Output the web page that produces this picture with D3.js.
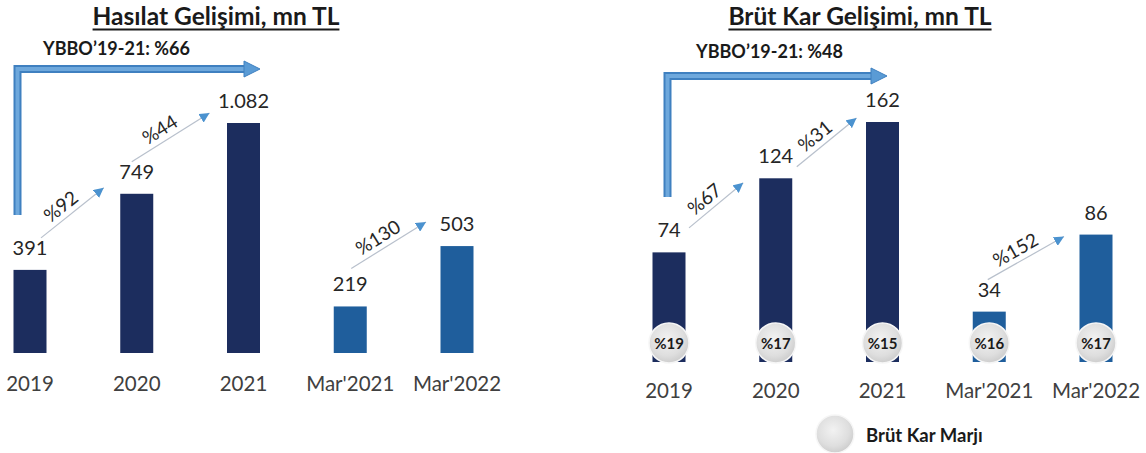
<!DOCTYPE html>
<html>
<head>
<meta charset="utf-8">
<script src="https://cdn.jsdelivr.net/npm/d3@7"></script>
<style>
  html, body { margin: 0; padding: 0; background: #fff; }
  svg { display: block; font-family: Lato, "Open Sans", sans-serif; }
</style>
</head>
<body>
<svg id="chart" width="1146" height="453"></svg>
<script>
// ---- data ----
const categories = ["2019", "2020", "2021", "Mar'2021", "Mar'2022"];
const revenue = [391, 749, 1082, 219, 503];
const grossProfit = [74, 124, 162, 34, 86];
const grossMargin = ["%19", "%17", "%15", "%16", "%17"];
const revenueGrowth = [
  { from: 0, to: 1, label: "%92" },
  { from: 1, to: 2, label: "%44" },
  { from: 3, to: 4, label: "%130" }
];
const profitGrowth = [
  { from: 0, to: 1, label: "%67" },
  { from: 1, to: 2, label: "%31" },
  { from: 3, to: 4, label: "%152" }
];
const titles = ["Hasılat Gelişimi, mn TL", "Brüt Kar Gelişimi, mn TL"];
const cagrLabels = ["YBBO’19-21: %66", "YBBO’19-21: %48"];
const legendLabel = "Brüt Kar Marjı";

// Turkish number format (1.082)
const trLocale = d3.formatLocale({ decimal: ",", thousands: ".", grouping: [3], currency: ["", "₺"] });
const fmt = trLocale.format(",");

const COLOR_YEAR = "#1c2d5e";
const COLOR_QUARTER = "#1f5e9c";
const barColor = (c) => c.startsWith("Mar") ? COLOR_QUARTER : COLOR_YEAR;

const svg = d3.select("#chart");

// shared defs: margin bubble gradient, arrowhead
const defs = svg.append("defs");
const grad = defs.append("radialGradient").attr("id", "bubble").attr("cx", "45%").attr("cy", "40%").attr("r", "60%");
grad.append("stop").attr("offset", "0%").attr("stop-color", "#f2f2f2");
grad.append("stop").attr("offset", "70%").attr("stop-color", "#dedede");
grad.append("stop").attr("offset", "100%").attr("stop-color", "#cdcdcd");

defs.append("marker")
  .attr("id", "tri").attr("viewBox", "0 0 10 10")
  .attr("refX", 10).attr("refY", 5)
  .attr("markerUnits", "userSpaceOnUse")
  .attr("markerWidth", 10).attr("markerHeight", 10)
  .attr("orient", "auto")
  .append("path").attr("d", "M0,0 L10,5 L0,10 Z").attr("fill", "#4b92cf");

// panel layouts
const panels = [
  {
    values: revenue, growth: revenueGrowth, title: titles[0], cagr: cagrLabels[0],
    xRange: [30, 457], yRange: [353, 123], yMax: 1082, barW: 33,
    titleX: 216, cagrX: 43, cagrY: 55,
    bigArrow: { x: 17.5, yBottom: 215, y: 69, tip: 260 },
    catY: 391,
    growthLayout: [
      { s: [11, -32], e: [-33, -6] },
      { s: [-5, -32], e: [-34, -10] },
      { s: [1, -38], e: [-31, -24] }
    ],
    margins: null
  },
  {
    values: grossProfit, growth: profitGrowth, title: titles[1], cagr: cagrLabels[1],
    xRange: [669, 1096], yRange: [362, 122], yMax: 162, barW: 33,
    titleX: 860, cagrX: 696, cagrY: 58,
    bigArrow: { x: 667.5, yBottom: 197, y: 76, tip: 887 },
    catY: 398,
    growthLayout: [
      { s: [20, -24.5], e: [-32.5, 4.5] },
      { s: [21, -11.5], e: [-26, -4] },
      { s: [-1.5, -32], e: [-32, 2] }
    ],
    margins: grossMargin
  }
];

panels.forEach((p) => {
  const g = svg.append("g");
  const x = d3.scalePoint().domain(categories).range(p.xRange);
  const y = d3.scaleLinear().domain([0, p.yMax]).range(p.yRange);
  const rows = categories.map((c, i) => ({ c, v: p.values[i], i }));

  // title with underline
  const t = g.append("text")
    .attr("x", p.titleX).attr("y", 25)
    .attr("text-anchor", "middle")
    .attr("font-size", 24.5).attr("font-weight", 700).attr("fill", "#1a1a1a")
    .text(p.title);
  const tw = t.node().getComputedTextLength();
  g.append("rect")
    .attr("x", p.titleX - tw / 2).attr("y", 28.5)
    .attr("width", tw).attr("height", 2).attr("fill", "#1a1a1a");

  // CAGR label and elbow arrow
  g.append("text")
    .attr("x", p.cagrX).attr("y", p.cagrY)
    .attr("font-size", 18).attr("font-weight", 700).attr("fill", "#1a1a1a")
    .text(p.cagr);

  const a = p.bigArrow;
  const elbow = d3.path();
  elbow.moveTo(a.x, a.yBottom);
  elbow.lineTo(a.x, a.y);
  elbow.lineTo(a.tip - 15, a.y);
  g.append("path").attr("d", elbow.toString())
    .attr("fill", "none").attr("stroke", "#3f80c0").attr("stroke-width", 8)
    .attr("stroke-linejoin", "miter");
  g.append("path").attr("d", elbow.toString())
    .attr("fill", "none").attr("stroke", "#6ea8dc").attr("stroke-width", 4)
    .attr("stroke-linejoin", "miter");
  g.append("path")
    .attr("d", `M${a.tip - 16},${a.y - 8} L${a.tip},${a.y} L${a.tip - 16},${a.y + 8} Z`)
    .attr("fill", "#5a9bd5").attr("stroke", "#3f80c0").attr("stroke-width", 1);

  // bars
  g.selectAll("rect.bar").data(rows).join("rect")
    .attr("class", "bar")
    .attr("x", (d) => x(d.c) - p.barW / 2)
    .attr("y", (d) => y(d.v))
    .attr("width", p.barW)
    .attr("height", (d) => y(0) - y(d.v))
    .attr("fill", (d) => barColor(d.c));

  // value labels
  g.selectAll("text.val").data(rows).join("text")
    .attr("class", "val")
    .attr("x", (d) => x(d.c))
    .attr("y", (d) => y(d.v) - 15)
    .attr("text-anchor", "middle")
    .attr("font-size", 20).attr("fill", "#262626")
    .text((d) => fmt(d.v));

  // category labels
  g.selectAll("text.cat").data(rows).join("text")
    .attr("class", "cat")
    .attr("x", (d) => x(d.c))
    .attr("y", p.catY)
    .attr("text-anchor", "middle")
    .attr("font-size", 20.5).attr("fill", "#404040")
    .text((d) => d.c);

  // growth arrows between bars
  p.growth.forEach((gr, k) => {
    const L = p.growthLayout[k];
    const x0 = x(categories[gr.from]) + L.s[0], y0 = y(p.values[gr.from]) + L.s[1];
    const x1 = x(categories[gr.to]) + L.e[0], y1 = y(p.values[gr.to]) + L.e[1];
    g.append("line")
      .attr("x1", x0).attr("y1", y0).attr("x2", x1).attr("y2", y1)
      .attr("stroke", "#b8c0cc").attr("stroke-width", 1.2)
      .attr("marker-end", "url(#tri)");
    const dx = x1 - x0, dy = y1 - y0, len = Math.hypot(dx, dy);
    const ux = dx / len, uy = dy / len;
    const nx = uy, ny = -ux;
    const mx = (x0 + x1) / 2 - ux * 5 + nx * 13;
    const my = (y0 + y1) / 2 - uy * 5 + ny * 13;
    const ang = Math.atan2(dy, dx) * 180 / Math.PI;
    g.append("text")
      .attr("transform", `translate(${mx},${my}) rotate(${ang})`)
      .attr("text-anchor", "middle").attr("dominant-baseline", "central")
      .attr("font-size", 19).attr("fill", "#262626")
      .text(gr.label);
  });

  // gross margin bubbles
  if (p.margins) {
    const cy = 343;
    g.selectAll("circle.m").data(rows).join("circle")
      .attr("class", "m")
      .attr("cx", (d) => x(d.c)).attr("cy", cy).attr("r", 20)
      .attr("fill", "url(#bubble)").attr("stroke", "#f6f6f6").attr("stroke-width", 1.5);
    g.selectAll("text.m").data(rows).join("text")
      .attr("class", "m")
      .attr("x", (d) => x(d.c)).attr("y", cy)
      .attr("text-anchor", "middle").attr("dominant-baseline", "central")
      .attr("font-size", 15).attr("font-weight", 700).attr("fill", "#1a1a1a")
      .text((d) => p.margins[d.i]);

    // legend
    g.append("circle").attr("cx", 835).attr("cy", 434).attr("r", 19)
      .attr("fill", "url(#bubble)").attr("stroke", "#f6f6f6").attr("stroke-width", 1.5);
    g.append("text").attr("x", 866).attr("y", 435)
      .attr("dominant-baseline", "central")
      .attr("font-size", 18.5).attr("font-weight", 700).attr("fill", "#1a1a1a")
      .text(legendLabel);
  }
});
</script>
</body>
</html>
